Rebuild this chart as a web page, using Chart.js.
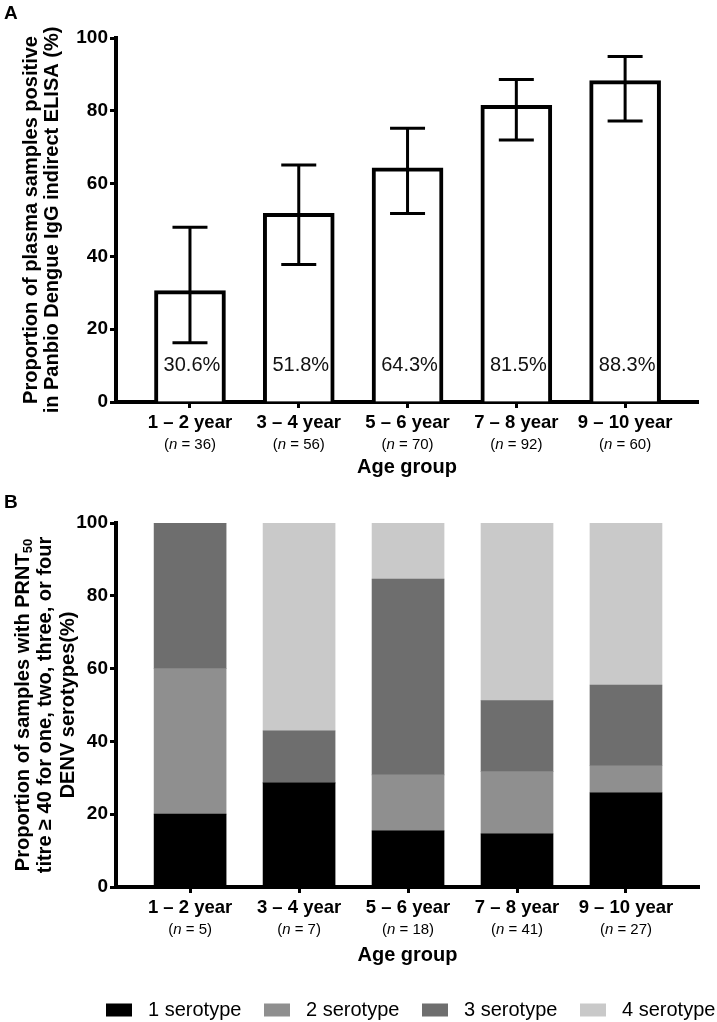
<!DOCTYPE html>
<html><head><meta charset="utf-8">
<script src="https://cdn.jsdelivr.net/npm/chart.js@4.4.1/dist/chart.umd.min.js"></script>
<style>
html,body{margin:0;padding:0;background:#fff;}
#ca{position:absolute;left:0;top:0;}
#cb{position:absolute;left:0;top:480px;}
</style></head><body>
<canvas id="ca" width="717" height="480"></canvas>
<canvas id="cb" width="717" height="542"></canvas>
<script>
// ---------------- data ----------------
const categories = ['1 – 2 year', '3 – 4 year', '5 – 6 year', '7 – 8 year', '9 – 10 year'];
const nA = [36, 56, 70, 92, 60];
const positivePct = [30.6, 51.8, 64.3, 81.5, 88.3];
const ciLow = [16.3, 37.8, 51.8, 72.0, 77.2];
const ciHigh = [48.0, 65.1, 75.2, 88.6, 94.9];
const pctLabels = ['30.6%', '51.8%', '64.3%', '81.5%', '88.3%'];
const nB = [5, 7, 18, 41, 27];
const sero1 = [20.0, 28.6, 15.4, 14.6, 25.9];
const sero2 = [40.0, 0.0, 15.4, 17.1, 7.4];
const sero3 = [40.0, 14.3, 53.8, 19.5, 22.2];
const sero4 = [0.0, 57.1, 15.4, 48.8, 44.4];
const seroLabels = ['1 serotype', '2 serotype', '3 serotype', '4 serotype'];
const yTicks = [0, 20, 40, 60, 80, 100];

// ---------------- helpers ----------------
const FONT = '"Liberation Sans", Arial, Helvetica, sans-serif';

function xScale(h) {
  return {
    type: 'linear', min: -0.68, max: 4.67, bounds: 'data', offset: false, stacked: true,
    afterBuildTicks: s => { s.ticks = categories.map((_, i) => ({ value: i })); },
    afterFit: s => { s.height = h; },
    ticks: { display: false },
    grid: { display: true, drawOnChartArea: false, drawTicks: true, tickLength: 6, tickWidth: 3, tickColor: '#000', offset: false },
    border: { display: true, color: '#000', width: 4 }
  };
}
function yScale(stacked) {
  return {
    min: 0, max: 100, stacked: stacked,
    afterBuildTicks: s => { s.ticks = yTicks.map(v => ({ value: v })); },
    afterFit: s => { s.width = 116; },
    ticks: { color: '#000', font: { family: FONT, size: 19, weight: 'bold' }, padding: 2 },
    grid: { display: true, drawOnChartArea: false, drawTicks: true, tickLength: 6, tickWidth: 3, tickColor: '#000' },
    border: { display: true, color: '#000', width: 4 }
  };
}

function drawXLabels(chart, nArr, d1, d2, d3) {
  const ctx = chart.ctx, xs = chart.scales.x, ca = chart.chartArea;
  ctx.save();
  ctx.fillStyle = '#000';
  ctx.textBaseline = 'middle';
  categories.forEach((c, i) => {
    const px = xs.getPixelForValue(i);
    ctx.font = 'bold 18.5px ' + FONT;
    ctx.textAlign = 'center';
    ctx.fillText(c, px, ca.bottom + d1);
    const parts = [{ t: '(', s: 'normal' }, { t: 'n', s: 'italic' }, { t: ' = ' + nArr[i] + ')', s: 'normal' }];
    ctx.textAlign = 'left';
    let w = 0;
    parts.forEach(p => { ctx.font = p.s + ' 15px ' + FONT; p.w = ctx.measureText(p.t).width; w += p.w; });
    let x0 = px - w / 2;
    parts.forEach(p => { ctx.font = p.s + ' 15px ' + FONT; ctx.fillText(p.t, x0, ca.bottom + d2); x0 += p.w; });
  });
  ctx.font = 'bold 20px ' + FONT;
  ctx.textAlign = 'center';
  ctx.fillText('Age group', (ca.left + ca.right) / 2, ca.bottom + d3);
  ctx.restore();
}

// lines: array of {x, segs:[{t, sub}]}
function drawYTitle(chart, lines) {
  const ctx = chart.ctx, ca = chart.chartArea;
  const cy = (ca.top + ca.bottom) / 2;
  ctx.save();
  ctx.fillStyle = '#000';
  ctx.textBaseline = 'middle';
  ctx.textAlign = 'left';
  lines.forEach(line => {
    let w = 0;
    line.segs.forEach(sg => {
      ctx.font = 'bold ' + (sg.sub ? 13 : 20) + 'px ' + FONT;
      sg.w = ctx.measureText(sg.t).width; w += sg.w;
    });
    ctx.save();
    ctx.translate(line.x, cy);
    ctx.rotate(-Math.PI / 2);
    let x0 = -w / 2;
    line.segs.forEach(sg => {
      ctx.font = 'bold ' + (sg.sub ? 13 : 20) + 'px ' + FONT;
      ctx.fillText(sg.t, x0, sg.sub ? 5 : 0);
      x0 += sg.w;
    });
    ctx.restore();
  });
  ctx.restore();
}

function drawLetter(chart, letter, y) {
  const ctx = chart.ctx;
  ctx.save();
  ctx.fillStyle = '#000';
  ctx.font = 'bold 19px ' + FONT;
  ctx.textBaseline = 'top';
  ctx.textAlign = 'left';
  ctx.fillText(letter, 4, y);
  ctx.restore();
}

// ---------------- panel A ----------------
const panelA = {
  id: 'panelA',
  afterDatasetsDraw(chart) {
    const ctx = chart.ctx, xs = chart.scales.x, ys = chart.scales.y;
    ctx.save();
    ctx.strokeStyle = '#000';
    ctx.lineWidth = 3;
    categories.forEach((_, i) => {
      const px = xs.getPixelForValue(i);
      const yh = ys.getPixelForValue(ciHigh[i]), yl = ys.getPixelForValue(ciLow[i]);
      ctx.beginPath();
      ctx.moveTo(px, yh); ctx.lineTo(px, yl);
      ctx.moveTo(px - 17.5, yh); ctx.lineTo(px + 17.5, yh);
      ctx.moveTo(px - 17.5, yl); ctx.lineTo(px + 17.5, yl);
      ctx.stroke();
    });
    ctx.fillStyle = '#111';
    ctx.font = '20px ' + FONT;
    ctx.textAlign = 'center';
    ctx.textBaseline = 'middle';
    categories.forEach((_, i) => {
      ctx.fillText(pctLabels[i], xs.getPixelForValue(i) + 2, ys.getPixelForValue(10));
    });
    ctx.restore();
  },
  afterDraw(chart) {
    drawXLabels(chart, nA, 21, 43, 65);
    drawYTitle(chart, [
      { x: 31, segs: [{ t: 'Proportion of plasma samples positive' }] },
      { x: 52, segs: [{ t: 'in Panbio Dengue IgG indirect ELISA (%)' }] }
    ]);
    drawLetter(chart, 'A', 4);
  }
};

new Chart(document.getElementById('ca'), {
  type: 'bar',
  data: {
    datasets: [{
      label: 'Positive',
      data: positivePct.map((v, i) => ({ x: i, y: v })),
      backgroundColor: '#fff', borderColor: '#000', borderWidth: 4,
      barThickness: 71, borderSkipped: 'start'
    }]
  },
  options: {
    responsive: false, animation: false, devicePixelRatio: 1,
    layout: { padding: { left: 0, top: 38, right: 19, bottom: 0 } },
    plugins: { legend: { display: false }, tooltip: { enabled: false } },
    scales: { x: xScale(78), y: yScale(false) }
  },
  plugins: [panelA]
});

// ---------------- panel B ----------------
const seroColors = ['#000000', '#8f8f8f', '#6e6e6e', '#c9c9c9'];
const seroData = [sero1, sero2, sero3, sero4];

const panelB = {
  id: 'panelB',
  afterDraw(chart) {
    drawXLabels(chart, nB, 21, 43, 68);
    drawYTitle(chart, [
      { x: 23, segs: [{ t: 'Proportion of samples with PRNT' }, { t: '50', sub: true }] },
      { x: 45, segs: [{ t: 'titre ≥ 40 for one, two, three, or four' }] },
      { x: 68, segs: [{ t: 'DENV serotypes(%)' }] }
    ]);
    drawLetter(chart, 'B', 13);
    // legend
    const ctx = chart.ctx;
    ctx.save();
    ctx.font = '20px ' + FONT;
    ctx.textBaseline = 'middle';
    ctx.textAlign = 'left';
    let x = 106;
    const cy = 530;
    chart.data.datasets.forEach(ds => {
      ctx.fillStyle = ds.backgroundColor;
      ctx.fillRect(x, cy - 6.5, 26, 13);
      ctx.fillStyle = '#000';
      ctx.fillText(ds.label, x + 42, cy);
      x += 158;
    });
    ctx.restore();
  }
};

new Chart(document.getElementById('cb'), {
  type: 'bar',
  data: {
    datasets: seroLabels.map((lab, k) => ({
      label: lab,
      data: seroData[k].map((v, i) => ({ x: i, y: v })),
      backgroundColor: seroColors[k], borderWidth: 0, barThickness: 72
    }))
  },
  options: {
    responsive: false, animation: false, devicePixelRatio: 1,
    layout: { padding: { left: 0, top: 43, right: 18, bottom: 0 } },
    plugins: { legend: { display: false }, tooltip: { enabled: false } },
    scales: { x: xScale(135), y: yScale(true) }
  },
  plugins: [panelB]
});
</script>
</body></html>
